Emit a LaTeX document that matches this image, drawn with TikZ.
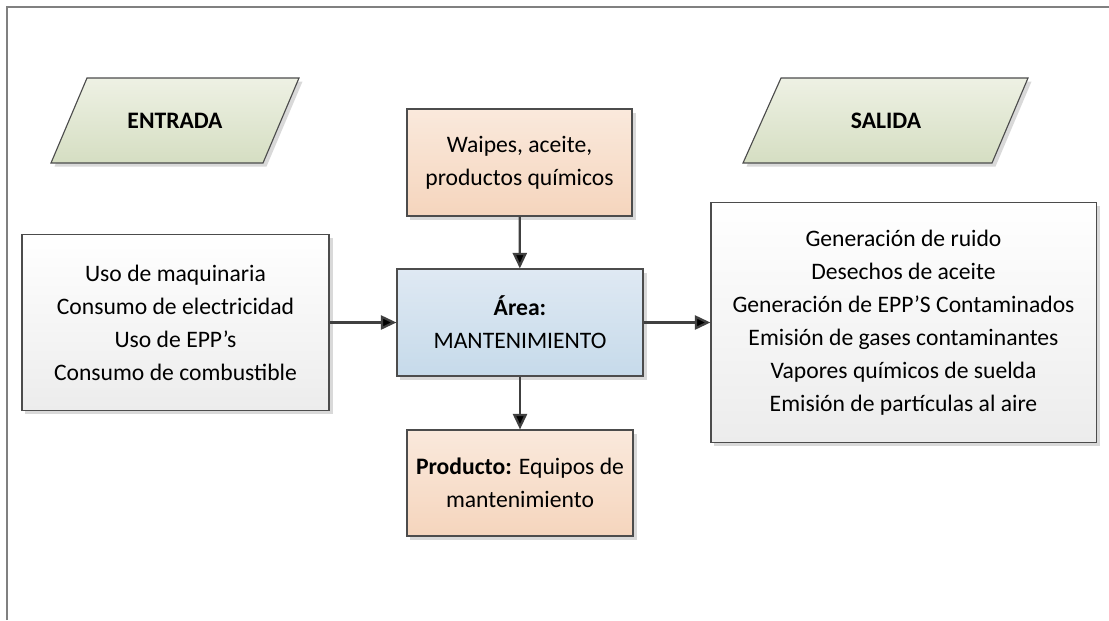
\documentclass[tikz,border=0pt]{standalone}
\usepackage{fontspec}
\setmainfont{Carlito}
\usetikzlibrary{positioning,shadows,arrows.meta}
\definecolor{iotop}{RGB}{238,241,228}
\definecolor{iobot}{RGB}{213,222,194}
\definecolor{ortop}{RGB}{250,233,220}
\definecolor{orbot}{RGB}{245,213,189}
\definecolor{bltop}{RGB}{223,233,243}
\definecolor{blbot}{RGB}{198,218,234}
\definecolor{grbot}{RGB}{236,236,236}
\definecolor{linegray}{RGB}{64,64,64}

\begin{document}
\begin{tikzpicture}[x=0.025cm,y=-0.025cm,font=\fontsize{16.8}{23.5}\selectfont,
   box/.style={draw=black!70,line width=0.8pt,align=center,inner sep=0pt,
      drop shadow={shadow xshift=2.5pt,shadow yshift=-2.5pt,fill=black!15,opacity=1}},
   io/.style={box,top color=iotop,bottom color=iobot},
   iotext/.style={font=\fontsize{16.8}{23.5}\selectfont\bfseries},
   orange/.style={box,top color=ortop,bottom color=orbot},
   list/.style={box,top color=white,bottom color=grbot},
   flow/.style={draw=linegray,line width=1.6pt,-{Triangle[length=11pt,width=10pt]}}]
   \useasboundingbox (0,0) rectangle (1109,620);
   \draw[black!50,line width=0.8pt] (7,620) |- (1109,7);
   % parallelograms
   \path[io] (51,163) -- (87,78) -- (299,78) -- (263,163) -- cycle;
   \path[io] (743,163) -- (781,78) -- (1028,78) -- (992,163) -- cycle;
   \node[iotext] (entrada) at (175,120.5) {ENTRADA};
   \node[iotext] (salida) at (886,120.5) {SALIDA};
   \node[orange,minimum width=5.625cm,minimum height=2.675cm] (insumos) at (519.5,162.5)
      {Waipes, aceite,\\productos químicos};
   \node[box,top color=bltop,bottom color=blbot,minimum width=6.15cm,minimum height=2.675cm]
      (area) at (520,322.5) {\textbf{Área:}\\MANTENIMIENTO};
   \node[orange,minimum width=5.65cm,minimum height=2.65cm] (producto) at (520,483)
      {\textbf{Producto:} Equipos de\\mantenimiento};
   \node[list,minimum width=7.675cm,minimum height=4.4cm] (entradas) at (175.5,322.5)
      {Uso de maquinaria\\Consumo de electricidad\\Uso de EPP’s\\Consumo de combustible};
   \node[list,minimum width=9.625cm,minimum height=6cm] (salidas) at (903.5,322.5)
      {Generación de ruido\\Desechos de aceite\\Generación de EPP’S Contaminados\\
       Emisión de gases contaminantes\\Vapores químicos de suelda\\Emisión de partículas al aire};
   \path[flow]
    (entradas) edge (area)
    (insumos) edge (area)
    (area) edge (salidas)
         edge (producto);
\end{tikzpicture}
\end{document}
